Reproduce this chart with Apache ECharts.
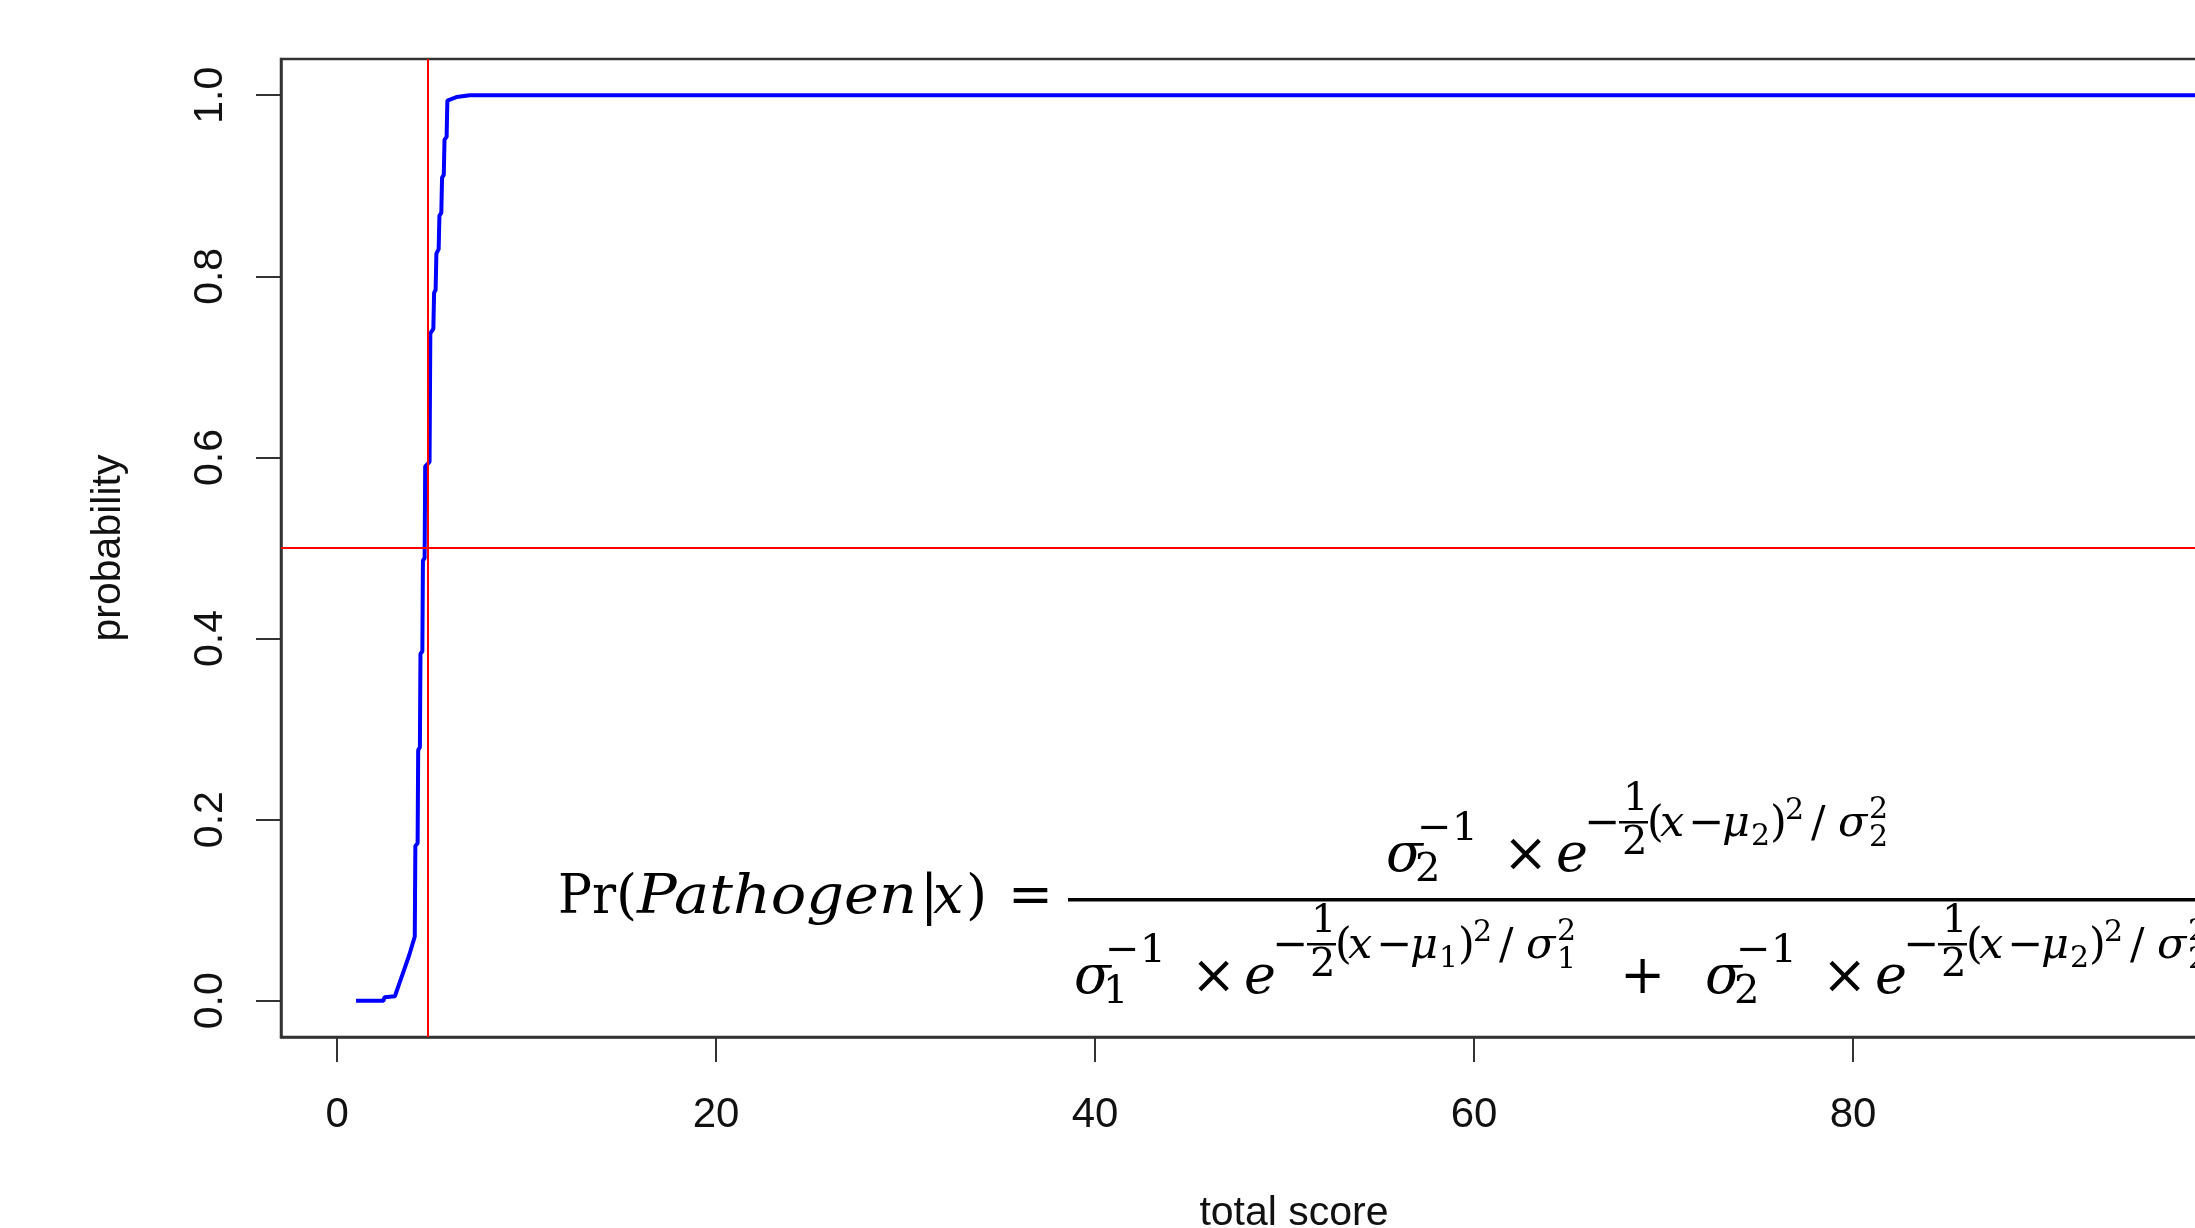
<!DOCTYPE html>
<html><head><meta charset="utf-8">
<script src="https://cdn.jsdelivr.net/npm/echarts@6/dist/echarts.min.js"></script>
<style>html,body{margin:0;padding:0;background:#fff}#c{width:2195px;height:1228px}</style>
</head><body><div id="c"></div>
<script>
// ---- data ----
const scores = [1.0, 2.45, 2.5, 3.05, 3.3, 3.55, 3.8, 4.1, 4.13, 4.25, 4.28, 4.37, 4.40, 4.50, 4.53, 4.62, 4.65, 4.88, 4.92, 5.08, 5.12, 5.2, 5.24, 5.36, 5.4, 5.5, 5.54, 5.63, 5.67, 5.78, 5.82, 6.3, 7.0, 100];
const probs  = [0.000, 0.000, 0.004, 0.005, 0.02, 0.035, 0.05, 0.071, 0.171, 0.174, 0.277, 0.28, 0.383, 0.386, 0.486, 0.489, 0.590, 0.595, 0.737, 0.742, 0.782, 0.785, 0.825, 0.83, 0.867, 0.87, 0.909, 0.912, 0.951, 0.954, 0.994, 0.998, 1.0, 1.0];
const xTicks = [0, 20, 40, 60, 80, 100];
const yTicks = [0, 0.2, 0.4, 0.6, 0.8, 1.0];
const cutScore = 4.8;
const cutProb = 0.5;
const xTitle = 'total score';
const yTitle = 'probability';

// ---- formula (typeset as text pieces) ----
const FF = '"DejaVu Serif"';
const mctx = document.createElement('canvas').getContext('2d');
function measure(s, size, it) { mctx.font = (it ? 'italic ' : '') + size + 'px ' + FF; return mctx.measureText(s).width; }
const els = [];
function put(s, x, w, base, size, it) {
  let sx = 1;
  if (w) { sx = w / measure(s, size, it); sx = Math.max(0.7, Math.min(1.4, sx)); }
  els.push({type: 'text', x: x, y: base - 0.346 * size, scaleX: sx, silent: true, z: 100,
    style: {text: s, fontFamily: 'DejaVu Serif', fontSize: size, fontStyle: it ? 'italic' : 'normal', fill: '#000',
      align: 'left', verticalAlign: 'middle', textAlign: 'left', textVerticalAlign: 'middle'}});
}
const MS = 54, ES = 43, SS = 30, FS = 40;
function term(x0, b, k) {
  put('σ', x0, 0, b, MS, true);
  put(k, x0 + 29, 0, b + 8, FS, false);
  put('−1', x0 + 31, 61, b - 33, FS, false);
  put('×', x0 + 117, 0, b, MS, false);
  put('e', x0 + 170, 0, b, MS, true);
  put('−', x0 + 198, 0, b - 36, ES, false);
  put('1', x0 + 237, 0, b - 63, FS, false);
  els.push({type: 'rect', silent: true, z: 100, shape: {x: x0 + 233, y: b - 55, width: 29, height: 2.5}, style: {fill: '#000'}});
  put('2', x0 + 236, 0, b - 19, FS, false);
  put('(', x0 + 261, 0, b - 36, ES, false);
  put('x', x0 + 274, 0, b - 36, ES, true);
  put('−', x0 + 302, 0, b - 36, ES, false);
  put('μ', x0 + 336, 0, b - 36, ES, true);
  put(k, x0 + 365, 0, b - 28, SS, false);
  put(')', x0 + 384, 0, b - 36, ES, false);
  put('2', x0 + 399, 0, b - 54, SS, false);
  put('/', x0 + 425, 0, b - 36, ES, false);
  put('σ', x0 + 452, 0, b - 36, ES, true);
  put('2', x0 + 483, 0, b - 55, SS, false);
  put(k, x0 + 483, 0, b - 27, SS, false);
}
const PB = 918;
put('Pr', 558, 58, PB, MS, false);
put('(', 616, 0, PB, MS, false);
put('Pathogen', 637, 280, PB, MS, true);
put('|', 920, 0, PB, MS, false);
put('x', 933, 0, PB, MS, true);
put(')', 966, 0, PB, MS, false);
put('=', 1008, 45, PB, MS, false);
els.push({type: 'rect', silent: true, z: 100, shape: {x: 1068, y: 898, width: 1300, height: 3.5}, style: {fill: '#000'}});
term(1386, 876, '2');
term(1074, 998, '1');
put('+', 1620, 0, 998, MS, false);
term(1705, 998, '2');

const chart = echarts.init(document.getElementById('c'), null, {renderer: 'canvas'});
const axisColor = '#333333';
chart.setOption({
  animation: false,
  backgroundColor: '#ffffff',
  grid: {left: 281, top: 59, width: 2026, height: 978, show: true, borderColor: axisColor, borderWidth: 2.5, backgroundColor: 'transparent', outerBoundsMode: 'none', containLabel: false},
  xAxis: {
    type: 'value', min: -2.96, max: 103.96,
    name: xTitle, nameLocation: 'middle', nameGap: 156,
    nameTextStyle: {fontFamily: 'Liberation Sans', fontSize: 41, color: '#111'},
    axisLine: {show: true, onZero: false, lineStyle: {color: axisColor, width: 2.5}},
    axisTick: {show: true, inside: false, length: 25, customValues: xTicks, lineStyle: {color: axisColor, width: 2}},
    axisLabel: {customValues: xTicks, margin: 57, fontFamily: 'Liberation Sans', fontSize: 42, color: '#111', formatter: v => String(v)},
    splitLine: {show: false}
  },
  yAxis: {
    type: 'value', min: -0.04, max: 1.04,
    name: yTitle, nameLocation: 'middle', nameGap: 152, nameRotate: 90,
    nameTextStyle: {fontFamily: 'Liberation Sans', fontSize: 41, color: '#111'},
    axisLine: {show: true, onZero: false, lineStyle: {color: axisColor, width: 2.5}},
    axisTick: {show: true, inside: false, length: 25, customValues: yTicks, lineStyle: {color: axisColor, width: 2}},
    axisLabel: {customValues: yTicks, rotate: 90, margin: 50, fontFamily: 'Liberation Sans', fontSize: 41, color: '#111', formatter: v => v.toFixed(1)},
    splitLine: {show: false}
  },
  series: [
    {type: 'line', data: scores.map((x, i) => [x, probs[i]]), symbol: 'none', showSymbol: false,
     lineStyle: {color: '#0000ff', width: 4}, z: 2},
    {type: 'line', data: [], z: 4,
     markLine: {silent: true, symbol: ['none', 'none'], label: {show: false},
       lineStyle: {color: '#ff0000', width: 2, type: 'solid'},
       data: [{xAxis: cutScore}, {yAxis: cutProb}]}}
  ],
  graphic: {elements: els}
});
</script>
</body></html>
